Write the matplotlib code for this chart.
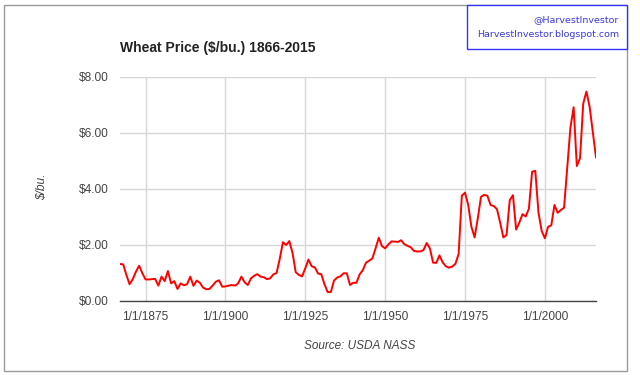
import numpy as np
import matplotlib.pyplot as plt
from matplotlib.patches import Rectangle

# wheat price, $/bu., crop years 1866-2015
years = np.arange(1866, 2016)
price = [
    1.32, 1.31, 0.93, 0.60, 0.78, 1.05, 1.26, 0.99, 0.77, 0.77,  # 1866-1875
    0.78, 0.79, 0.55, 0.87, 0.71, 1.07, 0.63, 0.71, 0.43, 0.63,  # 1876-1885
    0.56, 0.60, 0.87, 0.54, 0.73, 0.65, 0.48, 0.42, 0.43, 0.55,  # 1886-1895
    0.69, 0.74, 0.51, 0.52, 0.55, 0.57, 0.55, 0.63, 0.87, 0.67,  # 1896-1905
    0.57, 0.81, 0.90, 0.96, 0.87, 0.85, 0.78, 0.81, 0.95, 1.00,  # 1906-1915
    1.50, 2.10, 2.00, 2.14, 1.72, 1.03, 0.93, 0.88, 1.17, 1.48,  # 1916-1925
    1.24, 1.20, 0.98, 0.96, 0.60, 0.32, 0.32, 0.73, 0.84, 0.88,  # 1926-1935
    0.99, 0.99, 0.57, 0.65, 0.65, 0.95, 1.10, 1.37, 1.44, 1.52,  # 1936-1945
    1.88, 2.26, 1.96, 1.88, 2.02, 2.13, 2.12, 2.11, 2.17, 2.03,  # 1946-1955
    1.97, 1.92, 1.79, 1.77, 1.77, 1.82, 2.07, 1.88, 1.37, 1.36,  # 1956-1965
    1.63, 1.38, 1.24, 1.19, 1.23, 1.33, 1.68, 3.76, 3.87, 3.43,  # 1966-1975
    2.65, 2.27, 2.95, 3.72, 3.79, 3.76, 3.43, 3.39, 3.28, 2.80,  # 1976-1985
    2.27, 2.36, 3.60, 3.78, 2.55, 2.80, 3.10, 3.02, 3.30, 4.62,  # 1986-1995
    4.65, 3.15, 2.50, 2.24, 2.65, 2.70, 3.43, 3.15, 3.25, 3.33,  # 1996-2005
    4.75, 6.20, 6.92, 4.82, 5.10, 7.05, 7.48, 6.94, 6.05, 5.13,  # 2006-2015
]
xticks = [1875, 1900, 1925, 1950, 1975, 2000]
xticklabels = ['1/1/1875', '1/1/1900', '1/1/1925', '1/1/1950', '1/1/1975', '1/1/2000']
yticks = [0, 2, 4, 6, 8]

plt.rcParams['font.family'] = ['Liberation Sans', 'DejaVu Sans']

fig = plt.figure(figsize=(6.4, 3.75), dpi=100)
W, H = 640.0, 375.0

# outer frame
fig.patches.append(Rectangle((4/W, 1-370.5/H), 623/W, 365.8/H, transform=fig.transFigure,
                             fill=False, edgecolor='#9a9a9a', lw=1.0, zorder=0))

ax = fig.add_axes([120/W, 1-301/H, 476/W, 224/H])
# each crop year is drawn at the start of the following calendar year
dates = years + 1
ax.plot(dates, price, color='#ff0000', lw=1.4, solid_joinstyle='round')

ax.set_xlim(dates[0], dates[-1])
ax.set_ylim(0, 8)
ax.set_xticks(xticks)
ax.set_xticklabels(xticklabels)
ax.set_yticks(yticks)
ax.set_yticklabels(['$%.2f' % v for v in yticks])
ax.grid(True, color='#d6d6d6', lw=1.0)
ax.set_axisbelow(True)
for s in ['top', 'right', 'left']:
    ax.spines[s].set_visible(False)
ax.spines['bottom'].set_color('#444444')
ax.spines['bottom'].set_linewidth(1.0)
ax.tick_params(length=0, labelsize=8.6, colors='#444444')
ax.tick_params(axis='x', pad=7)
ax.tick_params(axis='y', pad=8.5)

fig.text(120/W, 1-48/H, 'Wheat Price ($/bu.) 1866-2015', ha='left', va='center',
         fontsize=10, fontweight='bold', color='#222222')
fig.text(41.7/W, 1-187/H, '$/bu.', rotation=90, ha='center', va='center',
         fontsize=8.6, style='italic', color='#444444')
fig.text(360/W, 1-346/H, 'Source: USDA NASS', ha='center', va='center',
         fontsize=8.5, style='italic', color='#444444')

# watermark box
fig.patches.append(Rectangle((467.3/W, 1-49/H), 159.7/W, 44.3/H, transform=fig.transFigure,
                             facecolor='white', edgecolor='#3333ff', lw=1.0, zorder=2))
fig.text(619/W, 1-19.5/H, '@HarvestInvestor', ha='right', va='center',
         fontsize=6.8, color='#3a3ae0', family='DejaVu Sans', zorder=3)
fig.text(619/W, 1-34.5/H, 'HarvestInvestor.blogspot.com', ha='right', va='center',
         fontsize=6.8, color='#3a3ae0', family='DejaVu Sans', zorder=3)

fig.savefig('out.png', dpi=100, facecolor='white')
